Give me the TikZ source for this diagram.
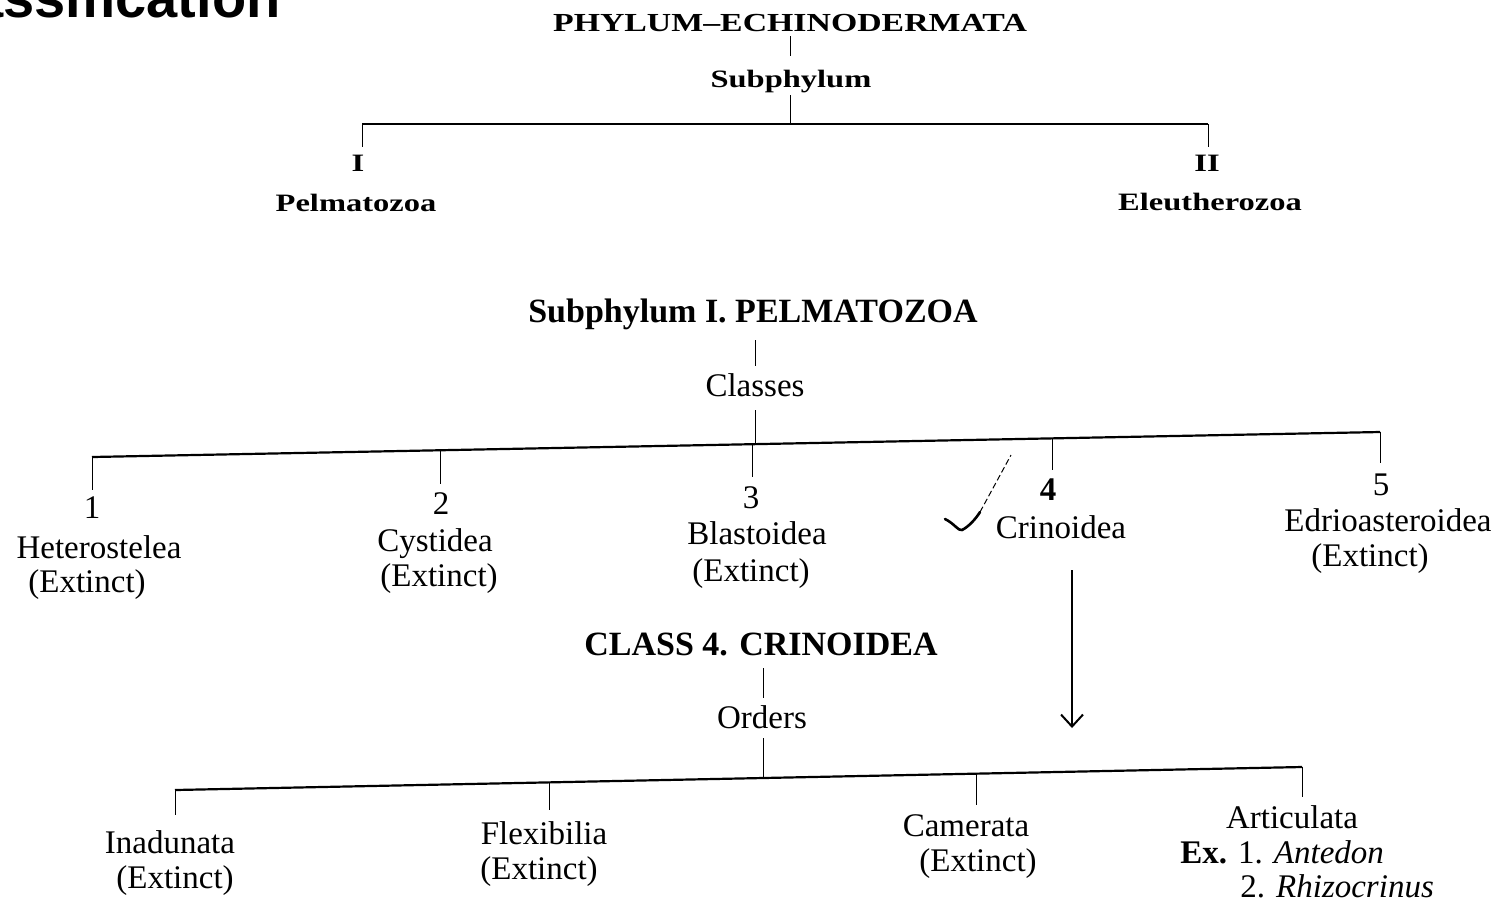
\documentclass[tikz,border=0pt]{standalone}
\usepackage{fontspec}
\setmainfont{Liberation Serif}
\newfontfamily\topfont{Liberation Serif}[FakeStretch=1.3]
\newfontfamily\headsans{Liberation Sans}
\usetikzlibrary{arrows.meta}
\begin{document}
\begin{tikzpicture}[x=0.5pt,y=-0.5pt,
  lbl/.style={inner sep=0pt, anchor=base, font=\fontsize{16.5}{19}\selectfont},
  toplbl/.style={inner sep=0pt, anchor=base, font=\topfont\bfseries\fontsize{12.5}{14}\selectfont},
  hd/.style={inner sep=0pt, anchor=base, font=\bfseries\fontsize{17}{20}\selectfont},
  bar/.style={line width=1.1pt},
  tick/.style={line width=0.5pt},
]
\useasboundingbox (0,0) rectangle (1504,907);

% cut-off page title
\node[inner sep=0pt, anchor=base east, font=\headsans\bfseries\fontsize{28}{30}\selectfont] (ttl) at (281,17) {Classification};

% ---------- top section ----------
\node[toplbl, font=\topfont\bfseries\fontsize{13}{15}\selectfont] (phy) at (790,31) {PHYLUM–ECHINODERMATA};
\node[toplbl] (sub) at (791,87) {Subphylum};
\node[toplbl] (rI) at (358,171) {I};
\node[toplbl] (rII) at (1207,171) {II};
\node[toplbl] (pel) at (356,211) {Pelmatozoa};
\node[toplbl] (ele) at (1210,210) {Eleutherozoa};

\coordinate (t1) at (790,36);
\coordinate (t2) at (790,56);
\coordinate (t3) at (790,95);
\coordinate (tb) at (790,124);
\coordinate (tL) at (362,124);
\coordinate (tR) at (1208,124);
\coordinate (tLd) at (362,147);
\coordinate (tRd) at (1208,147);
\draw[tick] (t1) -- (t2);
\draw[tick] (t3) -- (tb);
\draw[bar] (tL) -- (tR);
\draw[tick] (tL) -- (tLd);
\draw[tick] (tR) -- (tRd);

% ---------- Pelmatozoa section ----------
\node[hd] (pelh) at (753,322) {Subphylum I. PELMATOZOA};
\node[lbl] (cls) at (755,396) {Classes};

\node[lbl] (n1) at (92,518) {1};
\node[lbl] (c1) at (99,558) {Heterostelea};
\node[lbl] (e1) at (87,592) {(Extinct)};
\node[lbl] (n2) at (441,514) {2};
\node[lbl] (c2) at (435,551) {Cystidea};
\node[lbl] (e2) at (439,586) {(Extinct)};
\node[lbl] (n3) at (751,508) {3};
\node[lbl] (c3) at (757,544) {Blastoidea};
\node[lbl] (e3) at (751,581) {(Extinct)};
\node[lbl, font=\bfseries\fontsize{16.5}{19}\selectfont] (n4) at (1048,500) {4};
\node[lbl] (c4) at (1061,538) {Crinoidea};
\node[lbl] (n5) at (1381,495) {5};
\node[lbl] (c5) at (1388,531) {Edrioasteroidea};
\node[lbl] (e5) at (1370,566) {(Extinct)};

\coordinate (p1) at (755,340);
\coordinate (p2) at (755,366);
\coordinate (p3) at (755,410);
\coordinate (pb) at (755,444);
\coordinate (pL) at (92,457);
\coordinate (pR) at (1380,432);
\draw[tick] (p1) -- (p2);
\draw[tick] (p3) -- (pb);
\draw[bar] (pL) -- (pR);
\coordinate (q1a) at (92,457);  \coordinate (q1b) at (92,490);
\coordinate (q2a) at (440,450); \coordinate (q2b) at (440,484);
\coordinate (q3a) at (752,444); \coordinate (q3b) at (752,477);
\coordinate (q4a) at (1052,438); \coordinate (q4b) at (1052,470);
\coordinate (q5a) at (1380,432); \coordinate (q5b) at (1380,463);
\foreach \i in {1,...,5} { \draw[tick] (q\i a) -- (q\i b); }

% tick mark
\coordinate (k1) at (945,519);
\coordinate (k2) at (962,530);
\coordinate (k3) at (980,512);
\coordinate (k4) at (1011,455);
\draw[line width=1.3pt, line cap=round] (k1) .. controls (955,524) and (958,531) .. (k2) .. controls (968,527) and (975,520) .. (k3);
\draw[line width=0.5pt, dash pattern=on 3pt off 1.5pt] (k3) -- (k4);

% arrow
\coordinate (a1) at (1072,570);
\coordinate (a2) at (1072,728);
\draw[line width=1pt, -{Straight Barb[length=6pt,width=11pt]}] (a1) -- (a2);

% ---------- Crinoidea section ----------
\node[hd] (crh) at (761,655) {CLASS 4. CRINOIDEA};
\node[lbl] (ord) at (762,728) {Orders};

\node[lbl] (o1) at (170,853) {Inadunata};
\node[lbl] (x1) at (175,888) {(Extinct)};
\node[lbl] (o2) at (544,844) {Flexibilia};
\node[lbl] (x2) at (539,879) {(Extinct)};
\node[lbl] (o3) at (966,836) {Camerata};
\node[lbl] (x3) at (978,871) {(Extinct)};
\node[lbl] (o4) at (1292,828) {Articulata};
\node[lbl, anchor=base west] (ex1) at (1180,863) {\textbf{Ex.} 1. \textit{Antedon}};
\node[lbl, anchor=base west] (ex2) at (1240,897) {2. \textit{Rhizocrinus}};

\coordinate (r1) at (763,668);
\coordinate (r2) at (763,698);
\coordinate (r3) at (763,738);
\coordinate (rb) at (763,778);
\coordinate (rL) at (175,790);
\coordinate (rR) at (1302,767);
\draw[tick] (r1) -- (r2);
\draw[tick] (r3) -- (rb);
\draw[bar] (rL) -- (rR);
\coordinate (s1a) at (175,790);  \coordinate (s1b) at (175,815);
\coordinate (s2a) at (549,782);  \coordinate (s2b) at (549,810);
\coordinate (s3a) at (976,774);  \coordinate (s3b) at (976,805);
\coordinate (s4a) at (1302,767); \coordinate (s4b) at (1302,797);
\foreach \i in {1,...,4} { \draw[tick] (s\i a) -- (s\i b); }
\end{tikzpicture}
\end{document}
